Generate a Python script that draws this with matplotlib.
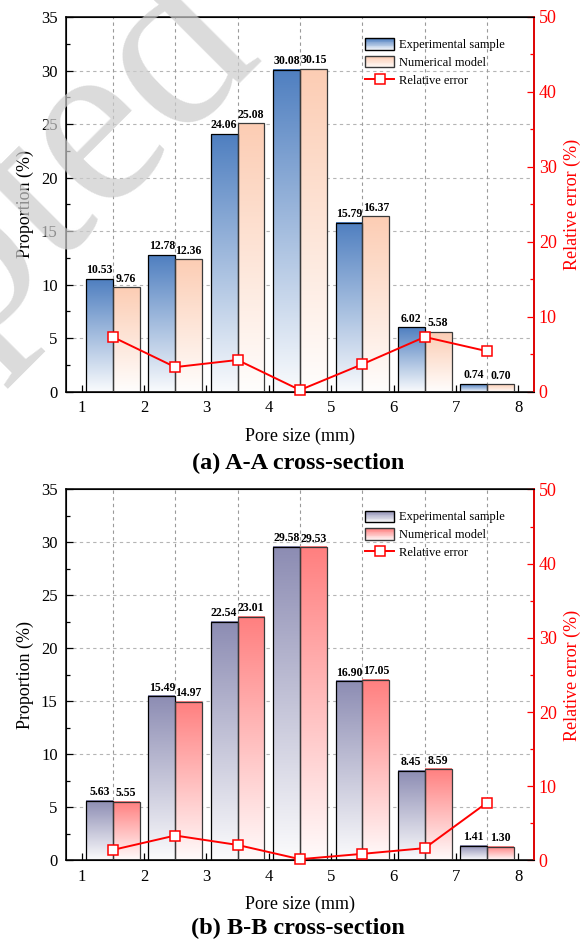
import numpy as np
import matplotlib
matplotlib.use("Agg")
import matplotlib.pyplot as plt
from matplotlib.colors import LinearSegmentedColormap, to_rgb
from matplotlib.patches import Rectangle, Patch
from matplotlib.lines import Line2D
from matplotlib.legend_handler import HandlerBase
from matplotlib.ticker import MultipleLocator, FixedLocator

plt.rcParams['font.family'] = ['Liberation Serif', 'DejaVu Serif']

# pore size bins (left edge of each bin, mm)
bins = np.arange(1, 8)

# (a) A-A cross-section
expA = [10.53, 12.78, 24.06, 30.08, 15.79, 6.02, 0.74]
numA = [9.76, 12.36, 25.08, 30.15, 16.37, 5.58, 0.70]
errA = [7.31, 3.29, 4.24, 0.23, 3.67, 7.31, 5.41]

# (b) B-B cross-section
expB = [5.63, 15.49, 22.54, 29.58, 16.90, 8.45, 1.41]
numB = [5.55, 14.97, 23.01, 29.53, 17.05, 8.59, 1.30]
errB = [1.42, 3.36, 2.09, 0.17, 0.89, 1.66, 7.80]

panels = [
    dict(exp=expA, num=numA, err=errA, title="(a) A-A cross-section",
         c_exp="#4f7fc0", c_num="#fccdb4", rect=[0.1134, 0.585, 0.804, 0.397], ty=0.509),
    dict(exp=expB, num=numB, err=errB, title="(b) B-B cross-section",
         c_exp="#8c8cb3", c_num="#ff7f7f", rect=[0.1134, 0.0885, 0.804, 0.393], ty=0.016),
]

W = 0.43


def blend(color, t):
    c = np.array(to_rgb(color))
    return tuple(1 - t * (1 - c))


class GradHandler(HandlerBase):
    def __init__(self, color, edge):
        super().__init__()
        self.color = color
        self.edge = edge

    def create_artists(self, legend, orig_handle, xdescent, ydescent, width, height, fontsize, trans):
        arts = []
        n = 14
        for k in range(n):
            r = Rectangle((-xdescent, -ydescent + height * k / n), width, height / n + 0.01,
                          facecolor=blend(self.color, 0.1 + 0.9 * k / (n - 1)),
                          edgecolor='none', transform=trans)
            arts.append(r)
        arts.append(Rectangle((-xdescent, -ydescent), width, height, facecolor='none',
                              edgecolor=self.edge, lw=1.0, transform=trans))
        return arts


def grad_bars(ax, xs, hs, color, edge):
    cmap = LinearSegmentedColormap.from_list('g', [blend(color, 0.03), color])
    grad = np.linspace(0, 1, 256).reshape(-1, 1)
    for x, h in zip(xs, hs):
        ax.imshow(grad, cmap=cmap, extent=[x - W / 2, x + W / 2, 0, h], origin='lower',
                  aspect='auto', zorder=2, interpolation='bilinear')
    ax.bar(xs, hs, W, facecolor='none', edgecolor=edge, lw=0.9, zorder=3)
    for x, h in zip(xs, hs):
        ax.text(x, h + 0.25, f"{h:.2f}", ha='center', va='bottom', fontsize=8.5,
                fontweight='bold', zorder=4)


fig = plt.figure(figsize=(5.82, 9.44), dpi=100)

for p in panels:
    ax = fig.add_axes(p['rect'])
    x_exp = bins + 0.285
    x_num = bins + 0.715
    grad_bars(ax, x_exp, p['exp'], p['c_exp'], 'black')
    grad_bars(ax, x_num, p['num'], p['c_num'], '#3a3a3a')

    ax.set_xlim(0.75, 8.25)
    ax.set_ylim(0, 35)
    ax.xaxis.set_major_locator(FixedLocator(list(range(1, 9))))
    ax.xaxis.set_minor_locator(FixedLocator(list(bins + 0.5)))
    ax.yaxis.set_major_locator(MultipleLocator(5))
    ax.yaxis.set_minor_locator(MultipleLocator(2.5))
    ax.tick_params(which='both', direction='in', top=False, right=False, labelsize=12, pad=6)
    ax.tick_params(which='major', length=5, width=0.9)
    ax.tick_params(which='minor', length=3, width=0.9)
    for yv in range(5, 35, 5):
        ax.axhline(yv, color='#b5b5b5', lw=0.8, ls=(0, (3, 3)), zorder=1)
    for xv in bins + 0.5:
        ax.axvline(xv, color='#9a9a9a', lw=0.8, ls=(0, (3, 3)), zorder=1)
    for s in ax.spines.values():
        s.set_linewidth(1.1)
    ax.set_xlabel("Pore size (mm)", fontsize=13, labelpad=8)
    ax.set_ylabel("Proportion (%)", fontsize=13, labelpad=5)

    ax2 = ax.twinx()
    ax2.set_ylim(0, 50)
    ax2.plot(bins + 0.5, p['err'], '-s', color='#ff0000', lw=1.4, ms=6.5,
             mfc='white', mec='#ff0000', mew=1.1, zorder=5, clip_on=False)
    ax2.yaxis.set_major_locator(MultipleLocator(10))
    ax2.yaxis.set_minor_locator(MultipleLocator(5))
    ax2.tick_params(which='both', direction='in', colors='#ff0000', labelsize=13)
    ax2.tick_params(which='major', length=5, width=0.9)
    ax2.tick_params(which='minor', length=3, width=0.9)
    ax2.spines['right'].set_color('#ff0000')
    ax2.spines['right'].set_linewidth(1.2)
    ax2.set_ylabel("Relative error (%)", color='#ff0000', fontsize=13, labelpad=5)

    h_exp = Patch(label="Experimental sample")
    h_num = Patch(label="Numerical model")
    h_err = Line2D([], [], color='#ff0000', marker='s', lw=1.4, ms=6.5, mfc='white',
                   mec='#ff0000', mew=1.1, label="Relative error")
    ax2.legend(handles=[h_exp, h_num, h_err], loc='upper left', bbox_to_anchor=(0.64, 0.943),
               frameon=False, fontsize=9, handlelength=2.3, handleheight=1.0,
               handletextpad=0.4, labelspacing=0.4, borderpad=0, borderaxespad=0,
               handler_map={h_exp: GradHandler(p['c_exp'], 'black'),
                            h_num: GradHandler(p['c_num'], '#3a3a3a')})

    fig.text(0.512, p['ty'], p['title'], ha='center', va='center', fontsize=17.5,
             fontweight='bold')

# faint watermark in the upper-left corner
fig.text(0.455, 0.94, "Accepted", ha='right', va='baseline', rotation=45,
         rotation_mode='anchor', fontsize=175, color='#cccccc', alpha=0.7, zorder=10)

fig.savefig("out.png", dpi=100)
